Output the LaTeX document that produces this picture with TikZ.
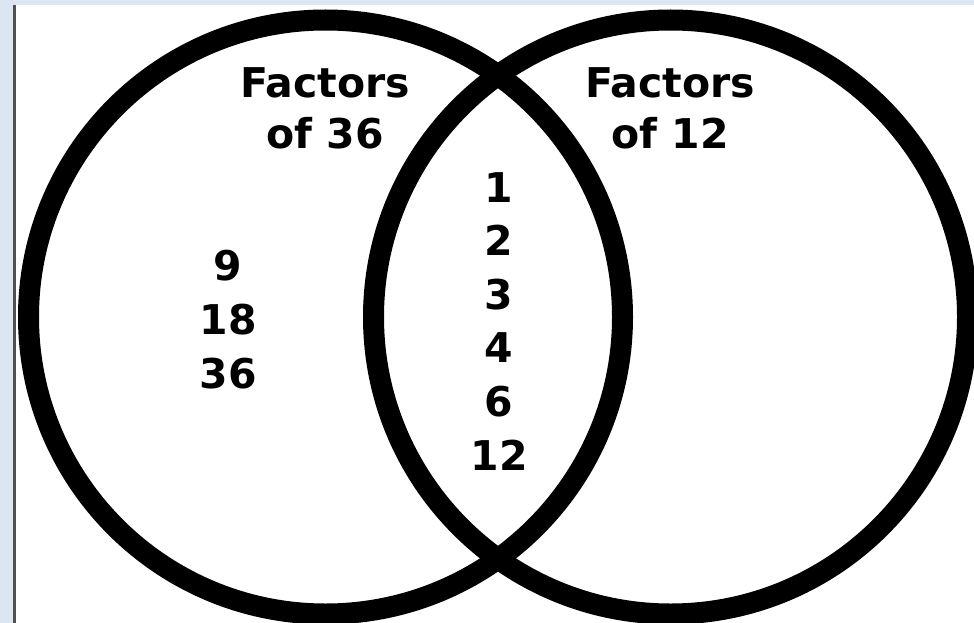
\documentclass[tikz,border=0pt]{standalone}
\usepackage{fontspec}
\setmainfont{DejaVu Sans}
\usepackage{tikz}
\usetikzlibrary{positioning}

\definecolor{frameblue}{HTML}{DCE6F2}
\definecolor{framegrey}{HTML}{505050}

\tikzset{
  label/.style={inner sep=0pt, anchor=north, align=center, font=\bfseries\fontsize{41}{53}\selectfont},
  ring/.style={draw=black, line width=21pt}
}

\begin{document}
\begin{tikzpicture}[x=1pt, y=-1pt]
        % Frame
        \useasboundingbox (0,0) rectangle (974,623);
        \fill[frameblue] (0,0) rectangle (974,623);
        \fill[white] (16,5) rectangle (974,623);
        \draw[framegrey, line width=3pt] (14.5,5) -- (14.5,623);

        % Circles
        \draw[ring] (325.5,317) circle[radius=297];
        \draw[ring] (670.5,317) circle[radius=297];

        % Titles
        \node[label, font=\bfseries\fontsize{41}{51}\selectfont] (title36) at (325,67) {Factors\\of 36};
        \node[label, font=\bfseries\fontsize{41}{51}\selectfont] (title12) at (670,67) {Factors\\of 12};

        % Only 36
        \node[label, font=\bfseries\fontsize{41}{54}\selectfont] (only36) at (228,250) {9\\18\\36};

        % Both
        \node[label, font=\bfseries\fontsize{41}{53.6}\selectfont] (both) at (499,172) {1\\2\\3\\4\\6\\12};
    \end{tikzpicture}
\end{document}
